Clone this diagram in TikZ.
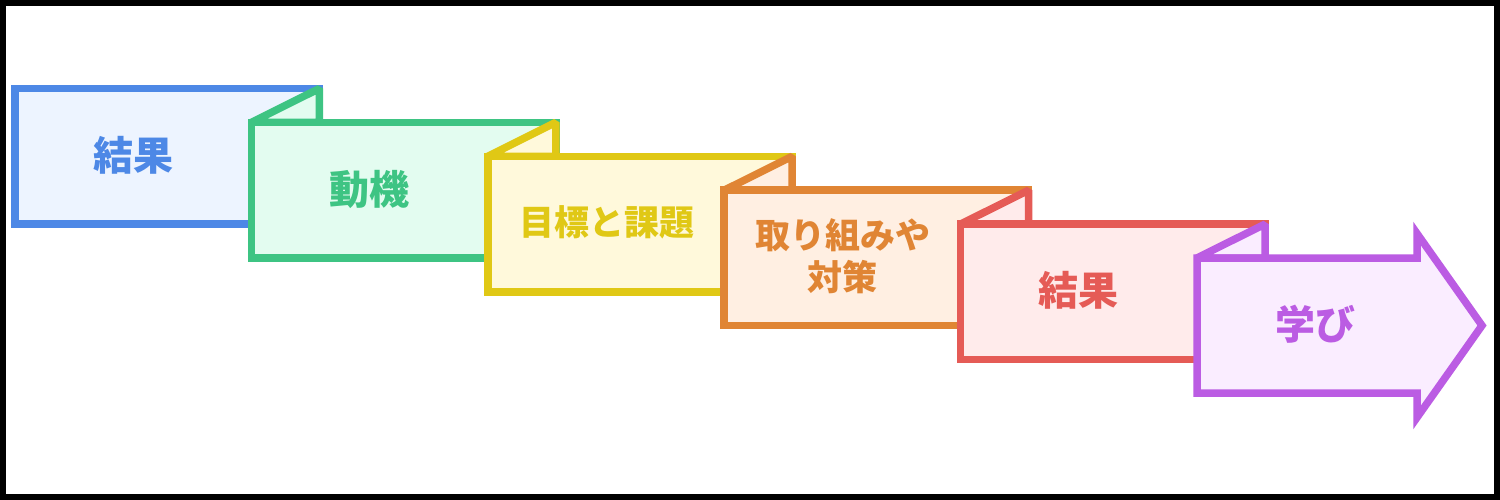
\documentclass[tikz,border=0pt]{standalone}
\usepackage{fontspec}
\newfontfamily\cjk{Noto Sans CJK JP}
\definecolor{bS}{HTML}{4D88E6}\definecolor{bF}{HTML}{EDF4FF}
\definecolor{gS}{HTML}{3EC483}\definecolor{gF}{HTML}{E3FCF0}
\definecolor{yS}{HTML}{E0C815}\definecolor{yF}{HTML}{FFF9DB}
\definecolor{oS}{HTML}{E08534}\definecolor{oF}{HTML}{FFEFE2}
\definecolor{rS}{HTML}{E55B56}\definecolor{rF}{HTML}{FFEBEB}
\definecolor{pS}{HTML}{BB5CE3}\definecolor{pF}{HTML}{FAEDFF}
\tikzset{
  shapebox/.style={line width=7.5pt, line join=miter},
  foldbox/.style={line width=7.5pt, line join=bevel},
  lbl/.style={font=\cjk\bfseries\fontsize{40}{44}\selectfont, align=center, inner sep=0pt},
  lblsmall/.style={font=\cjk\bfseries\fontsize{35}{42}\selectfont, align=center, inner sep=0pt},
}
\begin{document}
\begin{tikzpicture}[x=1pt,y=-1pt]
\fill[white] (0,0) rectangle (1500,500);
\useasboundingbox (0,0) rectangle (1500,500);
% box 0
\path[shapebox, draw=bS, fill=bF] (15,88.5) rectangle (319.5,224);
\node[lbl, text=bS] (t1) at (133,155) {結果};
% box 1
\path[foldbox, draw=gS, fill=gF] (251.4,122.4) -- (319.4,88.5) -- (319.4,122.4) -- cycle;
\path[shapebox, draw=gS, fill=gF] (251.4,122.4) rectangle (555.9,257.9);
\node[lbl, text=gS] (t2) at (369.4,189) {動機};
% box 2
\path[foldbox, draw=yS, fill=yF] (487.8,156.3) -- (555.8,122.4) -- (555.8,156.3) -- cycle;
\path[shapebox, draw=yS, fill=yF] (487.8,156.3) rectangle (792.3,291.8);
\node[lblsmall, text=yS] (t3) at (607,222) {目標と課題};
% box 3
\path[foldbox, draw=oS, fill=oF] (724.2,190.2) -- (792.2,156.3) -- (792.2,190.2) -- cycle;
\path[shapebox, draw=oS, fill=oF] (724.2,190.2) rectangle (1028.7,325.7);
\node[lblsmall, text=oS] (t4) at (842.6,256.5) {取り組みや\\対策};
% box 4
\path[foldbox, draw=rS, fill=rF] (960.6,224.1) -- (1028.6,190.2) -- (1028.6,224.1) -- cycle;
\path[shapebox, draw=rS, fill=rF] (960.6,224.1) rectangle (1265.1,359.6);
\node[lbl, text=rS] (t5) at (1078.6,290.5) {結果};
% box 5 (arrow)
\path[foldbox, draw=pS, fill=pF] (1197,258) -- (1265,224.1) -- (1265,258) -- cycle;
\path[shapebox, draw=pS, fill=pF] (1197,258) -- (1417,258) -- (1417,233.5) -- (1482,325.5) -- (1417,417.5) -- (1417,393) -- (1197,393) -- cycle;
\node[lbl, text=pS] (t6) at (1315,324.5) {学び};
% frame
\draw[black, line width=6pt] (3,3) rectangle (1497,497);
\end{tikzpicture}
\end{document}
